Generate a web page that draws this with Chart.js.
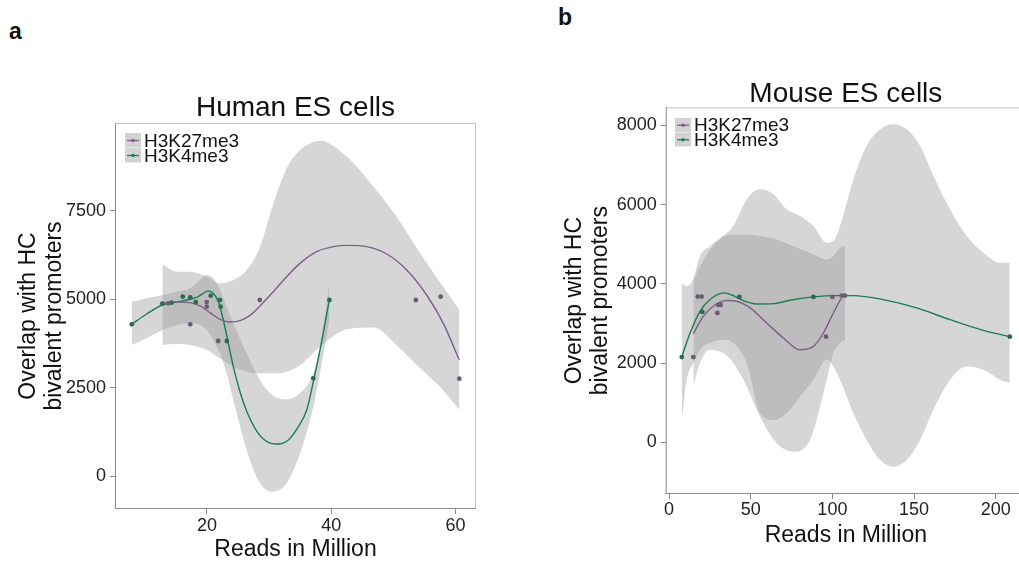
<!DOCTYPE html>
<html>
<head>
<meta charset="utf-8">
<script src="https://cdn.jsdelivr.net/npm/chart.js@4.4.0/dist/chart.umd.min.js"></script>
<style>
  html, body { margin: 0; padding: 0; background: #fff; overflow: hidden; }
  #wrap { position: relative; width: 1019px; height: 563px; overflow: hidden; }
  canvas { position: absolute; top: 0; }
  #panelA { left: 0; }
  #panelB { left: 540px; }
  .tag { position: absolute; font: bold 23px "Liberation Sans", Arial, sans-serif; line-height: 1; color: #111; }
</style>
</head>
<body>
<div id="wrap">
  <div class="tag" style="left:9px; top:20px;">a</div>
  <div class="tag" style="left:558px; top:6px;">b</div>
  <canvas id="panelA" width="510" height="563"></canvas>
  <canvas id="panelB" width="490" height="563"></canvas>
</div>
<script>
const seriesNames = ['H3K27me3', 'H3K4me3'];
const purple = '#7d5f88';
const green = '#1b7d52';
const bandFill = 'rgba(153,153,153,0.4)';

// --- Human ES cells ---
const aXTicks = [20, 40, 60];
const aYTicks = [0, 2500, 5000, 7500];

const aK27X = [12.81, 15.12, 17.26, 18.87, 20.48, 22.09, 23.70, 25.31, 26.92, 28.53, 30.67, 32.82, 34.96, 37.64, 40.32, 42.46, 45.69, 48.91, 52.13, 55.34, 58.02, 60.6];
const aK27Y = [4883, 4920, 4902, 4808, 4619, 4431, 4355, 4393, 4544, 4808, 5213, 5637, 6014, 6344, 6486, 6523, 6486, 6278, 5826, 5119, 4318, 3280];
const aK4X = [7.88, 10.29, 12.81, 14.32, 16.19, 18.33, 19.41, 20.21, 21.02, 21.82, 22.63, 23.43, 24.24, 25.31, 26.65, 28.26, 29.87, 31.48, 33.09, 34.70, 36.04, 37.11, 38.18, 38.99, 39.68];
const aK4Y = [4289, 4581, 4836, 4892, 4958, 5053, 5166, 5232, 5166, 4930, 4412, 3752, 3092, 2385, 1725, 1207, 952, 905, 1018, 1395, 1866, 2668, 3563, 4318, 4977];

const aK27BandX = [12.81, 15.12, 17.26, 19.95, 22.09, 24.24, 26.38, 28.53, 30.50, 32.82, 35.00, 38.20, 42.50, 46.80, 50.50, 54.30, 57.60, 60.60];
const aK27BandHi = [5986, 5779, 5779, 5637, 5449, 5543, 5826, 6486, 7600, 8700, 9219, 9483, 9030, 8182, 7333, 6298, 5449, 4700];
const aK27BandLo = [3705, 3733, 3705, 3563, 3328, 3092, 2951, 2903, 2903, 2951, 3139, 3658, 4150, 4200, 3700, 3050, 2500, 1866];
const aK4BandX = [7.88, 10.29, 12.81, 15.12, 17.26, 18.87, 19.95, 21.02, 22.09, 23.16, 24.24, 26.38, 28.53, 30.50, 32.82, 34.96, 37.11, 38.18, 39.68];
const aK4BandHi = [4930, 5024, 5119, 5213, 5307, 5543, 5684, 5590, 5260, 4789, 4318, 3469, 2715, 2291, 2168, 2338, 2903, 3658, 5449];
const aK4BandLo = [3705, 3893, 4129, 4270, 4318, 4270, 4129, 3846, 3469, 2903, 2149, 735, -207, -443, -207, 641, 1961, 2903, 4412];

const aK27PtsX = [13.8, 17.3, 19.95, 19.95, 21.8, 28.5, 53.6, 57.6, 60.6];
const aK27PtsY = [4884, 4290, 4920, 4788, 3818, 4977, 4977, 5071, 2752];
const aK4PtsX = [7.9, 12.8, 14.3, 16.1, 17.3, 18.2, 20.6, 22.1, 22.2, 23.2, 37.1, 39.7];
const aK4PtsY = [4290, 4873, 4901, 5071, 5053, 4920, 5099, 4977, 4788, 3818, 2763, 4977];

// --- Mouse ES cells ---
const bXTicks = [0, 50, 100, 150, 200];
const bYTicks = [0, 2000, 4000, 6000, 8000];

const bK27X = [14.9, 21.0, 27.1, 35.3, 41.4, 49.6, 59.8, 70.0, 80.2, 88.4, 94.5, 100.6, 105.7, 107.8];
const bK27Y = [2743, 3182, 3435, 3579, 3562, 3393, 3013, 2633, 2338, 2422, 2760, 3266, 3646, 3705];
const bK4X = [7.8, 12.9, 19.0, 25.1, 33.3, 39.4, 45.5, 53.7, 63.9, 74.1, 88.4, 100.6, 112.9, 131.2, 151.6, 172.0, 192.4, 208.6];
const bK4Y = [2152, 2760, 3308, 3604, 3773, 3705, 3579, 3494, 3503, 3587, 3671, 3705, 3705, 3604, 3393, 3097, 2827, 2667];

const bK27BandX = [14.9, 18.98, 25.1, 33.27, 39.39, 47.55, 55.71, 65.92, 76.12, 86.33, 96.53, 100.61, 104.69, 107.8];
const bK27BandHi = [4110, 4701, 4954, 5207, 5250, 5250, 5207, 5123, 4954, 4785, 4617, 4701, 4912, 4954];
const bK27BandLo = [1409, 2000, 2338, 2253, 2000, 1409, 650, -25, -236, 59, 1578, 2253, 2507, 2591];
const bK4BandX = [7.76, 10.82, 14.9, 18.98, 25.1, 33.27, 39.39, 47.55, 55.71, 63.88, 72.04, 80.2, 88.37, 96.53, 100.61, 104.69, 112.86, 121.02, 129.18, 137.35, 145.51, 153.67, 161.84, 172.04, 182.24, 192.45, 202.65, 208.57];
const bK4BandHi = [4026, 3941, 4110, 4448, 4870, 5207, 5461, 6136, 6389, 6263, 5883, 5714, 5461, 5039, 5081, 5461, 6642, 7486, 7908, 8035, 7908, 7486, 6727, 5883, 5207, 4785, 4532, 4532];
const bK4BandLo = [523, 1578, 2000, 2338, 2507, 2591, 2507, 2000, 734, 565, 734, 1156, 1578, 2085, 1916, 1578, 734, 59, -447, -616, -447, 59, 819, 1578, 1916, 1831, 1578, 1494];

const bK27PtsX = [14.9, 17.6, 20.0, 29.6, 30.2, 31.6, 96.1, 100.0, 105.7, 107.8];
const bK27PtsY = [2152, 3680, 3680, 3266, 3469, 3469, 2667, 3671, 3705, 3705];
const bK4PtsX = [7.8, 20.4, 43.1, 88.4, 208.6];
const bK4PtsY = [2152, 3292, 3671, 3671, 2667];

Chart.defaults.font.family = '"Liberation Sans", Arial, Helvetica, sans-serif';
Chart.defaults.color = '#222';

const xy = (xs, ys) => xs.map((x, i) => ({ x: x, y: ys[i] }));

function bandSets(xs, hi, lo) {
  return [
    { data: xy(xs, hi), fill: '+1', backgroundColor: bandFill, borderWidth: 0, pointRadius: 0, cubicInterpolationMode: 'monotone', order: 3 },
    { data: xy(xs, lo), fill: false, borderWidth: 0, pointRadius: 0, cubicInterpolationMode: 'monotone', order: 3 }
  ];
}

function curve(xs, ys, color) {
  return { data: xy(xs, ys), borderColor: color, borderWidth: 1.4, pointRadius: 0, fill: false, cubicInterpolationMode: 'monotone', order: 2 };
}

function dots(xs, ys, color) {
  return { data: xy(xs, ys), showLine: false, pointRadius: 2.4, pointBackgroundColor: color, pointBorderWidth: 0, order: 1 };
}

// panel frame: dark left/bottom axis, light top/right
const frame = {
  id: 'frame',
  afterDraw(chart) {
    const { ctx, chartArea: a } = chart;
    ctx.save();
    ctx.lineWidth = 1;
    ctx.strokeStyle = '#c2c2c2';
    ctx.beginPath();
    ctx.moveTo(a.left, a.top + 0.5); ctx.lineTo(a.right, a.top + 0.5);
    ctx.moveTo(a.right - 0.5, a.top); ctx.lineTo(a.right - 0.5, a.bottom);
    ctx.stroke();
    ctx.strokeStyle = '#8a8a8a';
    ctx.beginPath();
    ctx.moveTo(a.left + 0.5, a.top); ctx.lineTo(a.left + 0.5, a.bottom);
    ctx.moveTo(a.left, a.bottom - 0.5); ctx.lineTo(a.right, a.bottom - 0.5);
    ctx.stroke();
    ctx.restore();
  }
};

// legend drawn inside the plot, keys with grey band fill
const keyLegend = {
  id: 'keyLegend',
  afterDatasetsDraw(chart, args, opts) {
    const ctx = chart.ctx;
    ctx.save();
    opts.colors.forEach((c, i) => {
      const y = opts.y + i * opts.rowH;
      ctx.fillStyle = '#d3d3d3';
      ctx.fillRect(opts.x, y, 16, opts.rowH - 0.5);
      ctx.strokeStyle = c;
      ctx.lineWidth = 1.3;
      ctx.beginPath();
      ctx.moveTo(opts.x + 2, y + opts.rowH / 2);
      ctx.lineTo(opts.x + 14, y + opts.rowH / 2);
      ctx.stroke();
      ctx.fillStyle = c;
      ctx.beginPath();
      ctx.arc(opts.x + 8, y + opts.rowH / 2, 1.7, 0, Math.PI * 2);
      ctx.fill();
      ctx.fillStyle = '#111';
      ctx.font = '19px "Liberation Sans", Arial, sans-serif';
      ctx.textBaseline = 'middle';
      ctx.fillText(seriesNames[i], opts.x + 19, y + opts.rowH / 2 + 1);
    });
    ctx.restore();
  }
};

const plainNum = v => String(v);

function makePanel(id, cfg) {
  const datasets = [
    ...bandSets(cfg.k27Band[0], cfg.k27Band[1], cfg.k27Band[2]),
    ...bandSets(cfg.k4Band[0], cfg.k4Band[1], cfg.k4Band[2]),
    curve(cfg.k27[0], cfg.k27[1], purple),
    curve(cfg.k4[0], cfg.k4[1], green),
    dots(cfg.k27Pts[0], cfg.k27Pts[1], '#6d5a73'),
    dots(cfg.k4Pts[0], cfg.k4Pts[1], '#2f6a50')
  ];
  return new Chart(document.getElementById(id), {
    type: 'line',
    data: { datasets: datasets },
    plugins: [frame, keyLegend],
    options: {
      responsive: false,
      animation: false,
      layout: { padding: { left: 0, right: cfg.padRight, top: 0, bottom: 0 } },
      plugins: {
        legend: { display: false },
        tooltip: { enabled: false },
        title: {
          display: true, text: cfg.title, fullSize: false, color: '#111',
          font: { size: 28, weight: 'normal', lineHeight: 0.9 },
          padding: { top: cfg.titleTop, bottom: cfg.titleBottom }
        },
        keyLegend: cfg.legend
      },
      scales: {
        x: {
          type: 'linear', min: cfg.xRange[0], max: cfg.xRange[1],
          afterBuildTicks: s => { s.ticks = cfg.xTicks.map(v => ({ value: v })); },
          afterFit: s => { s.height = cfg.xHeight; },
          grid: { drawOnChartArea: false, drawTicks: true, tickLength: 5, tickColor: '#8a8a8a' },
          border: { display: false },
          ticks: { font: { size: 18 }, color: '#222', padding: cfg.xTickPad, maxRotation: 0, autoSkip: false, callback: plainNum },
          title: { display: true, text: 'Reads in Million', color: '#111', font: { size: 23, lineHeight: 1.13 }, padding: { top: 0, bottom: cfg.xTitleBottom } }
        },
        y: {
          type: 'linear', min: cfg.yRange[0], max: cfg.yRange[1],
          afterBuildTicks: s => { s.ticks = cfg.yTicks.map(v => ({ value: v })); },
          afterFit: s => { s.width = cfg.yWidth; },
          grid: { drawOnChartArea: false, drawTicks: true, tickLength: 5, tickColor: '#8a8a8a' },
          border: { display: false },
          ticks: { font: { size: 18 }, color: '#222', padding: 4, autoSkip: false, callback: plainNum },
          title: { display: true, text: ['Overlap with HC', 'bivalent promoters'], color: '#111', font: { size: 23, lineHeight: 1.13 }, padding: { top: cfg.yTitleTop, bottom: 0 } }
        }
      }
    }
  });
}

makePanel('panelA', {
  title: 'Human ES cells',
  titleTop: 95.4, titleBottom: 2.4,
  xRange: [5.2, 63.28], yRange: [-933, 9983],
  xTicks: aXTicks, yTicks: aYTicks,
  xHeight: 54, yWidth: 115, padRight: 34,
  xTickPad: 1, xTitleBottom: 0, yTitleTop: 16,
  k27: [aK27X, aK27Y], k4: [aK4X, aK4Y],
  k27Band: [aK27BandX, aK27BandHi, aK27BandLo],
  k4Band: [aK4BandX, aK4BandHi, aK4BandLo],
  k27Pts: [aK27PtsX, aK27PtsY], k4Pts: [aK4PtsX, aK4PtsY],
  legend: { x: 125, y: 133, rowH: 15, colors: [purple, green] }
});

makePanel('panelB', {
  title: 'Mouse ES cells',
  titleTop: 82.1, titleBottom: 0,
  xRange: [-2.02, 218.5], yRange: [-1306, 8460],
  xTicks: bXTicks, yTicks: bYTicks,
  xHeight: 69, yWidth: 125.7, padRight: 4,
  xTickPad: 0, xTitleBottom: 14, yTitleTop: 22,
  k27: [bK27X, bK27Y], k4: [bK4X, bK4Y],
  k27Band: [bK27BandX, bK27BandHi, bK27BandLo],
  k4Band: [bK4BandX, bK4BandHi, bK4BandLo],
  k27Pts: [bK27PtsX, bK27PtsY], k4Pts: [bK4PtsX, bK4PtsY],
  legend: { x: 135, y: 118, rowH: 14.5, colors: [purple, green] }
});
</script>
</body>
</html>
